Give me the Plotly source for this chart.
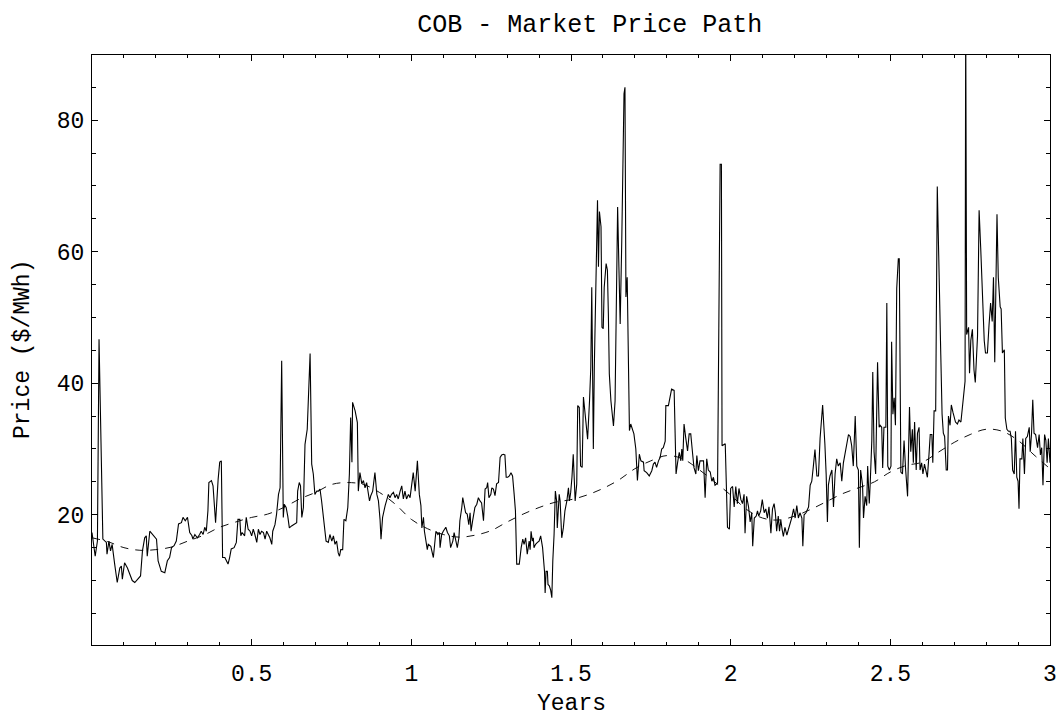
import plotly.graph_objects as go

# Simulated COB market price path (years, $/MWh), split by stretch of the path
path_early = [
    (0.000, 17.3), (0.010, 13.7), (0.017, 16.0), (0.022, 46.7), (0.034, 16.3), (0.040, 16.0),
    (0.045, 15.8), (0.047, 14.0), (0.053, 16.0), (0.058, 14.5), (0.063, 15.5), (0.071, 12.5),
    (0.079, 9.7), (0.087, 11.9), (0.092, 12.2), (0.095, 10.2), (0.102, 12.7), (0.111, 11.9),
    (0.118, 10.9), (0.126, 10.0), (0.134, 9.7), (0.144, 10.2), (0.152, 10.7), (0.158, 14.5),
    (0.165, 16.5), (0.170, 16.8), (0.173, 13.7), (0.181, 17.5), (0.191, 17.0), (0.202, 16.3),
    (0.207, 13.0), (0.217, 11.4), (0.228, 11.2), (0.236, 13.0), (0.243, 13.5), (0.249, 15.0),
    (0.257, 15.3), (0.264, 16.0), (0.271, 18.6), (0.280, 18.8), (0.285, 19.6), (0.292, 19.1),
    (0.299, 19.6), (0.306, 17.3), (0.313, 16.8), (0.316, 16.3), (0.322, 17.0), (0.330, 16.5),
    (0.337, 17.0), (0.342, 17.5), (0.348, 17.0), (0.353, 18.1), (0.358, 17.5), (0.363, 20.6),
    (0.366, 24.9), (0.374, 25.2), (0.379, 24.4), (0.384, 21.6), (0.387, 18.8), (0.395, 25.4),
    (0.400, 28.0), (0.405, 28.2), (0.409, 13.5), (0.416, 13.5), (0.421, 13.0), (0.426, 12.5),
    (0.431, 13.5), (0.436, 14.8), (0.445, 15.0), (0.452, 15.8), (0.457, 19.3), (0.463, 19.3),
    (0.466, 16.8), (0.470, 17.3), (0.478, 16.8), (0.483, 19.6), (0.489, 17.8),
]

path_year1 = [
    (0.495, 17.5), (0.500, 16.8), (0.505, 17.8), (0.510, 17.0), (0.516, 15.8), (0.521, 17.8),
    (0.526, 17.0), (0.531, 17.5), (0.537, 17.3), (0.542, 16.3), (0.547, 17.5), (0.552, 17.0),
    (0.557, 16.5), (0.563, 15.5), (0.566, 17.5), (0.573, 18.5), (0.578, 20.1), (0.584, 23.1),
    (0.589, 24.1), (0.594, 43.4), (0.599, 19.6), (0.602, 21.6), (0.608, 21.1), (0.613, 19.8),
    (0.618, 18.0), (0.625, 18.3), (0.631, 18.5), (0.641, 18.8), (0.644, 23.6), (0.649, 24.9),
    (0.653, 24.4), (0.657, 19.6), (0.662, 21.1), (0.667, 30.7), (0.674, 33.0), (0.679, 39.4),
    (0.683, 44.5), (0.688, 27.7), (0.693, 26.2), (0.698, 23.1), (0.704, 23.6), (0.709, 23.6),
    (0.714, 23.9), (0.719, 22.1), (0.727, 18.0), (0.733, 16.0), (0.740, 15.8), (0.745, 17.0),
    (0.751, 16.0), (0.756, 16.8), (0.761, 15.5), (0.766, 16.0), (0.771, 14.2), (0.775, 13.7),
    (0.779, 14.7), (0.785, 14.7), (0.789, 19.3), (0.795, 19.1), (0.801, 21.1), (0.806, 26.2),
    (0.810, 34.8), (0.814, 28.0), (0.816, 37.1), (0.824, 35.8), (0.831, 34.0), (0.834, 23.6),
    (0.839, 26.4), (0.845, 24.7), (0.850, 25.2), (0.855, 24.1), (0.860, 24.9), (0.865, 23.1),
    (0.869, 22.1), (0.873, 22.9), (0.879, 23.6), (0.886, 26.4), (0.892, 23.1), (0.897, 22.1),
    (0.902, 19.3), (0.905, 16.3), (0.910, 19.6), (0.918, 21.4), (0.923, 22.4), (0.928, 23.1),
    (0.933, 22.6), (0.938, 23.1), (0.944, 23.4), (0.949, 22.6), (0.954, 23.1), (0.959, 22.4),
    (0.965, 23.6), (0.970, 24.4), (0.975, 22.4), (0.980, 23.6), (0.985, 22.4), (0.991, 23.1),
]

path_year2a = [
    (0.996, 22.6), (1.001, 24.9), (1.006, 26.4), (1.012, 23.6), (1.019, 28.2), (1.025, 23.1),
    (1.030, 21.4), (1.033, 18.0), (1.038, 19.6), (1.041, 17.5), (1.046, 16.0), (1.050, 14.7),
    (1.053, 15.5), (1.061, 15.2), (1.069, 13.5), (1.074, 15.5), (1.077, 17.5), (1.083, 17.0),
    (1.088, 17.3), (1.090, 15.0), (1.095, 17.0), (1.100, 17.5), (1.108, 18.1), (1.113, 17.3),
    (1.119, 16.8), (1.123, 15.0), (1.130, 16.0), (1.134, 17.3), (1.140, 16.0), (1.144, 15.0),
    (1.149, 16.5), (1.152, 19.1), (1.158, 21.1), (1.161, 22.6), (1.165, 21.6), (1.170, 20.3),
    (1.175, 20.1), (1.180, 18.5), (1.184, 20.3), (1.187, 17.5), (1.192, 19.1), (1.196, 20.1),
    (1.199, 21.1), (1.205, 21.6), (1.210, 22.6), (1.215, 22.1), (1.220, 21.8), (1.226, 19.1),
    (1.231, 23.9), (1.236, 24.1), (1.239, 24.9), (1.243, 22.6), (1.249, 23.1), (1.252, 24.1),
    (1.257, 23.9), (1.262, 22.9), (1.267, 24.7), (1.273, 24.9), (1.278, 28.7), (1.283, 29.1),
    (1.288, 29.2), (1.293, 29.1), (1.297, 25.7), (1.302, 25.7), (1.307, 25.9), (1.312, 26.4),
    (1.317, 25.9), (1.322, 23.1), (1.326, 20.6), (1.330, 12.5), (1.338, 12.5), (1.344, 15.0),
    (1.349, 16.3), (1.353, 15.5), (1.358, 16.5), (1.363, 14.0), (1.369, 16.0), (1.372, 14.7),
    (1.375, 17.5), (1.379, 16.0), (1.382, 16.5), (1.384, 15.0), (1.389, 15.5), (1.395, 15.8),
    (1.400, 16.0), (1.405, 16.8), (1.411, 15.0), (1.417, 11.4), (1.419, 8.1), (1.422, 11.4),
    (1.426, 11.4), (1.428, 9.4), (1.432, 9.2), (1.436, 8.6), (1.440, 7.4), (1.443, 13.0),
    (1.447, 17.0), (1.451, 23.6), (1.455, 22.1), (1.457, 18.0), (1.463, 23.1), (1.466, 22.1),
    (1.471, 16.5), (1.476, 18.0), (1.481, 20.6), (1.487, 22.1), (1.492, 24.1), (1.495, 22.1),
    (1.499, 23.4), (1.503, 25.7), (1.507, 29.2), (1.513, 22.1), (1.518, 24.7), (1.521, 36.6),
    (1.526, 36.3),
]

path_year2b = [
    (1.530, 27.4), (1.535, 27.2), (1.539, 37.9), (1.546, 34.8), (1.552, 31.5), (1.558, 37.3),
    (1.562, 42.4), (1.565, 54.6), (1.568, 42.4), (1.570, 30.0), (1.573, 42.4), (1.577, 52.1),
    (1.583, 67.8), (1.586, 57.7), (1.589, 66.1), (1.594, 63.8), (1.597, 48.5), (1.601, 48.3),
    (1.604, 54.6), (1.610, 58.2), (1.614, 57.2), (1.617, 50.6), (1.620, 41.4), (1.625, 37.3),
    (1.633, 33.5), (1.638, 37.3), (1.643, 53.6), (1.646, 66.8), (1.650, 57.7), (1.654, 49.0),
    (1.659, 61.7), (1.663, 72.9), (1.666, 84.0), (1.669, 85.0), (1.672, 53.1), (1.676, 56.1),
    (1.680, 42.4), (1.683, 32.8), (1.687, 33.8), (1.692, 33.0), (1.697, 32.3), (1.703, 30.0),
    (1.708, 25.2), (1.714, 29.2), (1.719, 28.2), (1.727, 28.0), (1.729, 26.7), (1.737, 26.4),
    (1.745, 25.9), (1.753, 26.7), (1.758, 27.7), (1.763, 28.0), (1.768, 27.2), (1.774, 28.2),
    (1.779, 28.7), (1.784, 30.0), (1.789, 30.2), (1.795, 31.2), (1.797, 36.6), (1.805, 36.6),
    (1.810, 37.9), (1.815, 39.1), (1.823, 38.9), (1.829, 26.2), (1.834, 28.0), (1.839, 29.5),
    (1.844, 28.2), (1.847, 30.0), (1.850, 28.2), (1.854, 33.8), (1.859, 31.8), (1.865, 29.7),
    (1.870, 32.3), (1.875, 32.3), (1.881, 29.2), (1.885, 27.2), (1.891, 26.2), (1.894, 29.0),
    (1.899, 26.7), (1.904, 28.2),
]

path_year3a = [
    (1.915, 28.2), (1.920, 22.6), (1.925, 28.5), (1.930, 26.8), (1.936, 26.5), (1.941, 25.1),
    (1.946, 25.7), (1.951, 24.5), (1.959, 24.8), (1.967, 73.3), (1.971, 73.3), (1.973, 30.5),
    (1.983, 30.8), (1.986, 24.5), (1.990, 18.1), (1.996, 17.8), (2.000, 24.0), (2.006, 24.3),
    (2.011, 21.2), (2.016, 24.3), (2.021, 21.7), (2.026, 24.0), (2.032, 22.3), (2.037, 21.7),
    (2.042, 23.1), (2.045, 17.2), (2.050, 22.8), (2.056, 21.2), (2.061, 18.9), (2.066, 20.3),
    (2.069, 15.2), (2.074, 19.5), (2.080, 19.8), (2.084, 20.6), (2.088, 19.8), (2.094, 20.6),
    (2.099, 22.3), (2.105, 20.3), (2.110, 20.9), (2.115, 19.5), (2.120, 21.2), (2.126, 17.2),
    (2.131, 20.9), (2.136, 21.7), (2.140, 20.3), (2.144, 17.5), (2.149, 19.8), (2.153, 17.5),
    (2.157, 19.2), (2.161, 17.8), (2.165, 16.7), (2.170, 18.1), (2.176, 16.9), (2.181, 17.8),
    (2.186, 18.6), (2.191, 19.5), (2.197, 20.9), (2.202, 19.5), (2.207, 21.4), (2.212, 19.5),
    (2.217, 20.3), (2.223, 19.5), (2.226, 15.2), (2.230, 20.0), (2.236, 20.3), (2.244, 21.2),
    (2.249, 24.5), (2.254, 25.1), (2.259, 27.4), (2.264, 29.9), (2.270, 25.9), (2.275, 25.9),
    (2.280, 31.6), (2.288, 36.7), (2.295, 30.8), (2.299, 26.2), (2.303, 18.9), (2.306, 24.5),
    (2.311, 25.9), (2.317, 26.8), (2.322, 21.2), (2.327, 26.2), (2.332, 28.5), (2.337, 27.4),
    (2.343, 27.9), (2.348, 25.1), (2.353, 27.9), (2.358, 29.3), (2.364, 30.8), (2.369, 32.2),
    (2.374, 31.9), (2.379, 30.5), (2.384, 27.4), (2.390, 35.0), (2.395, 27.4), (2.400, 26.8),
    (2.403, 15.0), (2.407, 26.8), (2.413, 24.5), (2.416, 19.5), (2.421, 22.8), (2.426, 21.4),
    (2.429, 27.4), (2.434, 21.7),
]

path_year3b = [
    (2.437, 24.8), (2.442, 31.3), (2.445, 41.7), (2.449, 29.6), (2.454, 26.2), (2.460, 43.2),
    (2.465, 33.3), (2.468, 33.6), (2.473, 33.3), (2.476, 27.1), (2.480, 33.3), (2.486, 33.3),
    (2.489, 52.2), (2.492, 27.4), (2.497, 26.8), (2.502, 27.4), (2.504, 46.3), (2.508, 35.3),
    (2.512, 37.8), (2.516, 33.6), (2.520, 54.4), (2.525, 58.9), (2.528, 58.9), (2.533, 26.5),
    (2.538, 26.2), (2.543, 31.3), (2.548, 26.8), (2.554, 22.8), (2.557, 29.6), (2.560, 36.4),
    (2.564, 29.6), (2.569, 33.0), (2.572, 27.9), (2.576, 34.1), (2.581, 26.8), (2.585, 32.4),
    (2.590, 33.3), (2.593, 26.8), (2.598, 27.9), (2.602, 26.2), (2.607, 27.7), (2.612, 26.2),
    (2.616, 25.7), (2.621, 29.1), (2.625, 32.2), (2.630, 32.2), (2.633, 27.9), (2.637, 35.8),
    (2.642, 35.8), (2.647, 69.9), (2.653, 52.7), (2.658, 44.3), (2.662, 35.3), (2.666, 32.4),
    (2.670, 31.9), (2.675, 26.8), (2.679, 26.8), (2.682, 35.0), (2.687, 33.6), (2.691, 36.7),
    (2.696, 35.6), (2.700, 34.7), (2.704, 34.1), (2.710, 33.8), (2.715, 34.4), (2.721, 34.1),
    (2.725, 36.4), (2.729, 38.1), (2.734, 40.3), (2.736, 96.0), (2.739, 47.4), (2.745, 48.5),
    (2.748, 41.5), (2.752, 46.5), (2.757, 48.2), (2.762, 42.0), (2.766, 40.1), (2.773, 47.1),
    (2.778, 66.3), (2.783, 60.6), (2.788, 52.7), (2.794, 46.5), (2.798, 44.6), (2.804, 44.6),
    (2.809, 48.8), (2.814, 52.2), (2.819, 49.4), (2.823, 56.1), (2.827, 43.2), (2.831, 53.3),
    (2.834, 65.7), (2.838, 56.1), (2.844, 51.6), (2.847, 51.3), (2.851, 44.6), (2.857, 45.1),
    (2.860, 34.7), (2.865, 33.0), (2.870, 32.7), (2.875, 32.7), (2.879, 31.6), (2.883, 26.8),
    (2.888, 26.2), (2.892, 32.7), (2.896, 25.7), (2.900, 25.1), (2.903, 20.9), (2.906, 28.5),
    (2.912, 28.5), (2.915, 31.6), (2.920, 26.2), (2.924, 31.6), (2.929, 31.9), (2.935, 33.3),
    (2.938, 29.6), (2.942, 32.2), (2.946, 37.5), (2.950, 32.4), (2.955, 32.2), (2.961, 30.2),
    (2.966, 32.2), (2.970, 29.1), (2.974, 30.2), (2.978, 24.5), (2.983, 32.2), (2.987, 31.3),
    (2.991, 27.9), (2.995, 31.6), (3.000, 27.9),
]

# Seasonal mean-reverting level (dashed curve)
trend_years = [0.00, 0.05, 0.10, 0.15, 0.20, 0.25, 0.30, 0.35, 0.40, 0.45, 0.50, 0.55, 0.60,
               0.65, 0.70, 0.75, 0.80, 0.85, 0.90, 0.95, 1.00, 1.05, 1.10, 1.15, 1.20, 1.25,
               1.30, 1.35, 1.40, 1.45, 1.50, 1.55, 1.60, 1.65, 1.70, 1.75, 1.80, 1.85, 1.90,
               1.95, 2.00, 2.05, 2.10, 2.15, 2.20, 2.25, 2.30, 2.35, 2.40, 2.45, 2.50, 2.55,
               2.60, 2.65, 2.70, 2.75, 2.80, 2.85, 2.90, 2.95, 3.00]
trend_price = [16.5, 15.9, 15.0, 14.6, 14.7, 15.1, 16.0, 16.9, 18.1, 18.9, 19.6, 20.1, 21.1,
               22.4, 23.4, 24.6, 24.9, 24.6, 23.4, 21.6, 19.3, 17.9, 17.0, 16.6, 16.9, 17.6,
               18.9, 20.1, 21.1, 21.9, 22.3, 23.0, 24.0, 25.3, 27.0, 28.2, 29.0, 28.5, 26.9,
               25.0, 23.0, 20.8, 19.5, 19.2, 19.8, 20.8, 22.0, 23.2, 24.1, 25.0, 26.5, 27.5,
               28.0, 29.5, 31.0, 32.2, 33.0, 32.7, 31.3, 29.1, 27.0]

x_tick_vals = [0.5, 1, 1.5, 2, 2.5, 3]
x_tick_text = ["0.5", "1", "1.5", "2", "2.5", "3"]
y_tick_vals = [20, 40, 60, 80]
y_tick_text = ["20", "40", "60", "80"]

segments = [path_early, path_year1, path_year2a, path_year2b, path_year3a, path_year3b]
years = [t for seg in segments for t, _ in seg]
price = [p for seg in segments for _, p in seg]

FONT = "Liberation Mono, Courier New, monospace"

fig = go.Figure()
fig.add_trace(go.Scatter(
    x=trend_years, y=trend_price, mode="lines",
    line=dict(color="#111111", width=1, dash="8px,7px", shape="spline"),
    hoverinfo="skip", showlegend=False,
))
fig.add_trace(go.Scatter(
    x=years, y=price, mode="lines",
    line=dict(color="black", width=1.1),
    showlegend=False,
))

axis_common = dict(
    showgrid=False, zeroline=False, automargin=False,
    showline=True, linecolor="black", linewidth=1, mirror="allticks",
    ticks="inside", tickcolor="black", tickwidth=1,
    tickfont=dict(family=FONT, size=23, color="black"),
)

fig.update_xaxes(
    **axis_common, range=[0, 3], tickmode="array",
    tickvals=x_tick_vals, ticktext=x_tick_text, ticklen=6, ticklabelstandoff=7,
    minor=dict(ticks="inside", dtick=0.1, tick0=0, ticklen=3, tickcolor="black", tickwidth=1),
)
fig.update_yaxes(
    **axis_common, range=[0.2, 89.9], tickmode="array",
    tickvals=y_tick_vals, ticktext=y_tick_text, ticklen=6, ticklabelstandoff=2,
    minor=dict(ticks="inside", dtick=5, tick0=0, ticklen=4, tickcolor="black", tickwidth=1),
)

fig.update_layout(
    width=1057, height=717,
    margin=dict(l=92, r=7, t=55, b=72, autoexpand=False),
    paper_bgcolor="white", plot_bgcolor="white",
    title=dict(text="COB - Market Price Path", x=0.558, xanchor="center",
               y=1 - 23 / 717, yanchor="middle",
               font=dict(family=FONT, size=25, color="black")),
    annotations=[
        dict(text="Years", xref="paper", yref="paper", x=0.5, y=0, xanchor="center",
             yanchor="middle", yshift=-59, showarrow=False,
             font=dict(family=FONT, size=23, color="black")),
        dict(text="Price ($/MWh)", xref="paper", yref="paper", x=0, y=0.5, xanchor="center",
             yanchor="middle", xshift=-69, textangle=-90, showarrow=False,
             font=dict(family=FONT, size=23, color="black")),
    ],
)

fig.write_html("out.html")
